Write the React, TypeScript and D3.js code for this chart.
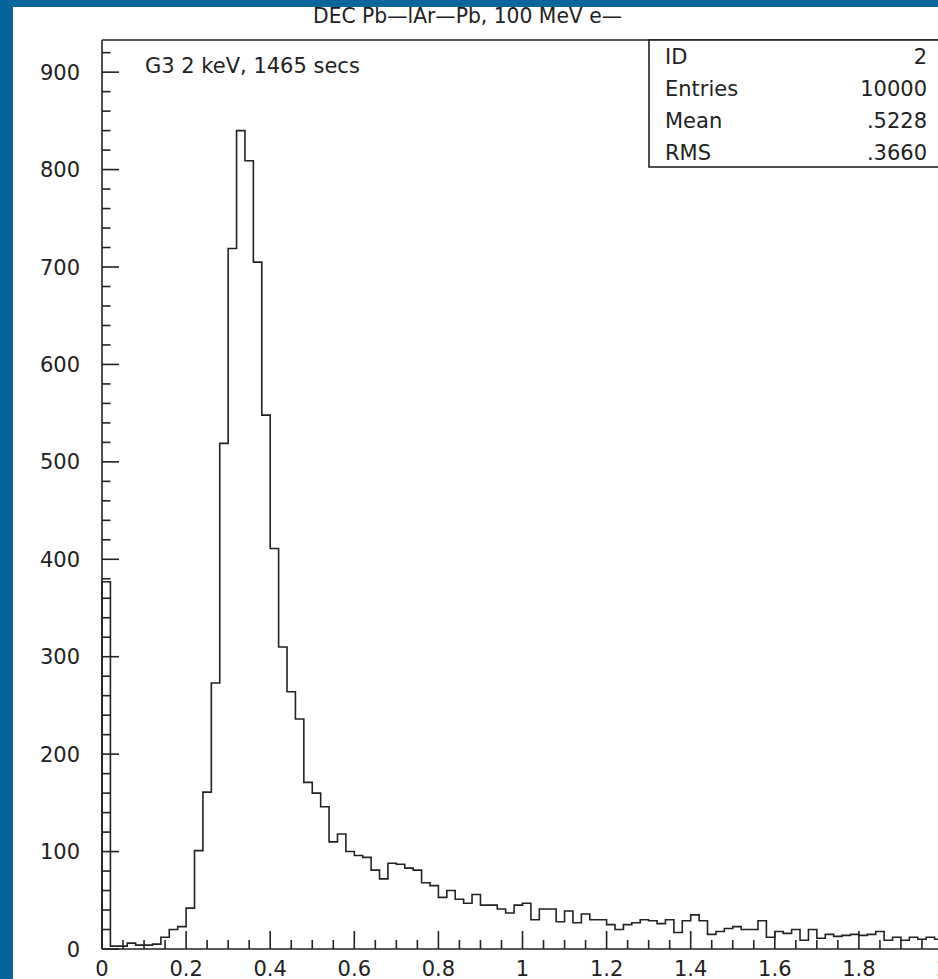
import React from "react"
import * as d3 from "d3"

// histogram contents, 100 bins of width 0.02 from 0 to 2
const binCounts = [
  377, 3, 3, 6, 4, 4, 5, 12, 20, 23,
  42, 101, 161, 273, 519, 719, 840, 809, 705, 548,
  411, 310, 264, 236, 171, 160, 146, 110, 118, 100,
  96, 94, 81, 72, 88, 87, 83, 81, 68, 65,
  53, 60, 51, 47, 56, 45, 45, 41, 37, 45,
  47, 30, 41, 41, 28, 39, 27, 36, 30, 30,
  25, 20, 25, 27, 30, 29, 26, 30, 17, 29,
  35, 29, 15, 18, 21, 23, 20, 20, 29, 12,
  18, 16, 20, 9, 20, 11, 15, 13, 14, 15,
  14, 15, 18, 9, 12, 9, 12, 10, 12, 10,
]
const binWidth = 0.02
const xDomain = [0, 2]
const yMax = 933

const xTickValues = [0, 0.2, 0.4, 0.6, 0.8, 1, 1.2, 1.4, 1.6, 1.8, 2]
const xTickLabels = ["0", "0.2", "0.4", "0.6", "0.8", "1", "1.2", "1.4", "1.6", "1.8", "2"]
const yTickValues = [0, 100, 200, 300, 400, 500, 600, 700, 800, 900]

const statLabels = ["ID", "Entries", "Mean", "RMS"]
const statValues = ["2", "10000", ".5228", ".3660"]

const title = "DEC Pb\u2014lAr\u2014Pb, 100 MeV e\u2014"
const note = "G3 2 keV, 1465 secs"

const W = 938
const H = 979
const left = 102
const right = 943
const top = 40
const bottom = 949
// thin face if present, regular otherwise
const font = "'DejaVu Sans ExtraLight', 'DejaVu Sans'"
const ink = "#222222"

export default function App() {
  const x = d3.scaleLinear().domain(xDomain).range([left, right])
  const y = d3.scaleLinear().domain([0, yMax]).range([bottom, top])

  // outline of the histogram
  const pts: [number, number][] = [[0, 0]]
  binCounts.forEach((v, i) => {
    pts.push([i * binWidth, v])
    pts.push([(i + 1) * binWidth, v])
  })
  pts.push([xDomain[1], 0])
  const outline = d3
    .line<[number, number]>()
    .x((d) => x(d[0]))
    .y((d) => y(d[1]))(pts)

  const xMinor = d3.range(0, 2.0001, 0.05)
  const yMinor = d3.range(0, yMax, 20)

  return (
    <div style={{ position: "fixed", left: 0, top: 0 }}>
      <svg width={W} height={H} style={{ display: "block" }}>
        <rect x={0} y={0} width={W} height={H} fill="#05669b" />
        <rect x={13} y={7} width={W - 13} height={H - 7} fill="#ffffff" />

        <text x={313} y={23} fontFamily={font} fontSize={21} fill={ink} textLength={309} lengthAdjust="spacingAndGlyphs">
          {title}
        </text>

        {/* ticks */}
        {xMinor.map((t, i) => {
          const major = i % 4 === 0
          return (
            <line key={"xm" + i} x1={x(t)} x2={x(t)} y1={bottom} y2={bottom - (major ? 18 : 9)} stroke={ink} strokeWidth={1.6} />
          )
        })}
        {yMinor.map((t, i) => {
          const major = i % 5 === 0
          return (
            <line key={"ym" + i} x1={left} x2={left + (major ? 17 : 8.5)} y1={y(t)} y2={y(t)} stroke={ink} strokeWidth={1.6} />
          )
        })}

        {/* frame */}
        <line x1={left} x2={left} y1={top} y2={bottom} stroke={ink} strokeWidth={1.6} />
        <line x1={left} x2={W + 10} y1={bottom} y2={bottom} stroke={ink} strokeWidth={1.6} />
        <line x1={left} x2={W + 10} y1={top} y2={top} stroke={ink} strokeWidth={1.6} />

        <path d={outline || ""} fill="none" stroke={ink} strokeWidth={1.6} />

        {xTickValues.map((t, i) => (
          <text key={"xl" + i} x={x(t)} y={976} textAnchor="middle" fontFamily={font} fontSize={21} fill={ink}>
            {xTickLabels[i]}
          </text>
        ))}
        {yTickValues.map((t) => (
          <text key={"yl" + t} x={80} y={y(t)} dy="0.36em" textAnchor="end" fontFamily={font} fontSize={21} fill={ink}>
            {t}
          </text>
        ))}

        <text x={145} y={73} fontFamily={font} fontSize={21} fill={ink}>
          {note}
        </text>

        {/* statistics box */}
        <rect x={649} y={top} width={W} height={127} fill="#ffffff" stroke={ink} strokeWidth={1.6} />
        {statLabels.map((s, i) => (
          <g key={s}>
            <text x={665} y={64 + i * 32} fontFamily={font} fontSize={21} fill={ink}>
              {s}
            </text>
            <text x={927} y={64 + i * 32} textAnchor="end" fontFamily={font} fontSize={21} fill={ink}>
              {statValues[i]}
            </text>
          </g>
        ))}
      </svg>
    </div>
  )
}
